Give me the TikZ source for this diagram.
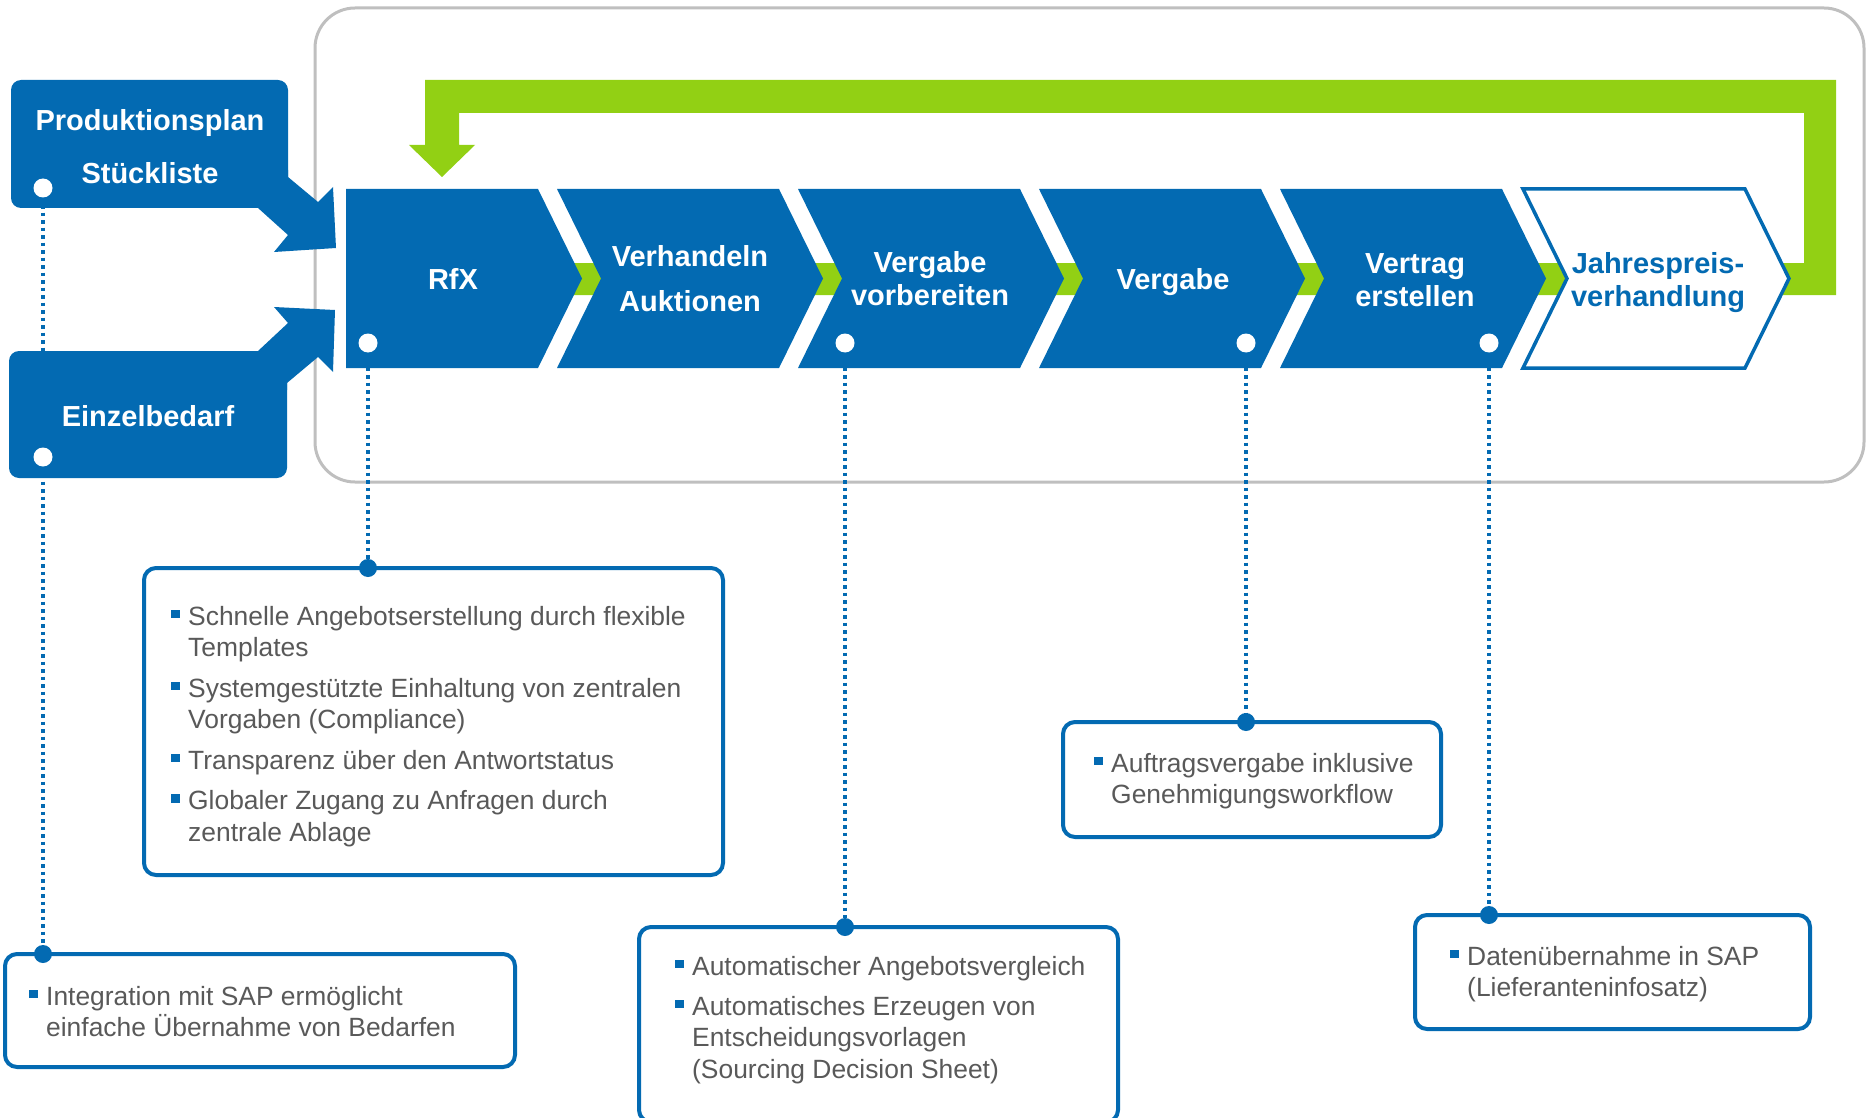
\documentclass[tikz,border=0pt]{standalone}
\usepackage{fontspec}
\setmainfont{Liberation Sans}
\definecolor{cblue}{RGB}{3,106,178}
\definecolor{cgreen}{RGB}{146,208,20}
\definecolor{cgray}{RGB}{191,191,191}
\definecolor{ctext}{RGB}{89,89,89}
\newcommand\tstr[1]{\rule{0pt}{#1pt}}
\newcommand\infobul{\llap{\textcolor{cblue}{\rule[7pt]{8.5pt}{8.5pt}}\hspace{8.5pt}}}
\begin{document}
\begin{tikzpicture}[x=1pt,y=-1pt,
  chevtxt/.style={inner sep=0pt, align=center, anchor=north, text=white, font=\fontsize{29}{33}\selectfont\bfseries},
  infotxt/.style={inner sep=0pt, align=left, anchor=north west, text=ctext, font=\fontsize{26.4}{31.5}\selectfont},
  infobox/.style={draw=cblue, line width=4pt, rounded corners=12pt, fill=white, inner sep=0pt},
  wdot/.style={circle, fill=white, inner sep=0pt, minimum size=19pt},
  bdot/.style={circle, fill=cblue, inner sep=0pt, minimum size=18pt},
  dotline/.style={cblue, line width=3.3pt, dash pattern=on 3.5pt off 4pt},
  leftbox/.style={fill=cblue, rounded corners=10pt, inner sep=0pt},
  chev/.style={fill=cblue},
]
\useasboundingbox (0,0) rectangle (1866,1118);

% gray container
\draw[cgray, line width=3pt, rounded corners=40pt] (315,8) rectangle (1864,482);

% green feedback loop
\fill[cgreen] (425,80) -- (1836,80) -- (1836,295) -- (560,295) -- (560,263) -- (1804,263)
  -- (1804,113) -- (459,113) -- (459,145) -- (475,145) -- (442,177) -- (409,145) -- (425,145) -- cycle;

% chevrons
\fill[chev] (346,189) -- (538,189) -- (582,278.5) -- (538,368) -- (346,368) -- cycle;
\fill[chev] (557,189) -- (779,189) -- (823,278.5) -- (779,368) -- (557,368) -- (601,278.5) -- cycle;
\fill[chev] (798,189) -- (1020,189) -- (1064,278.5) -- (1020,368) -- (798,368) -- (842,278.5) -- cycle;
\fill[chev] (1039,189) -- (1261,189) -- (1305,278.5) -- (1261,368) -- (1039,368) -- (1083,278.5) -- cycle;
\fill[chev] (1280,189) -- (1502,189) -- (1546,278.5) -- (1502,368) -- (1280,368) -- (1324,278.5) -- cycle;
\filldraw[fill=white, draw=cblue, line width=3.5pt] (1523,189) -- (1745,189) -- (1789,278.5) -- (1745,368) -- (1523,368) -- (1567,278.5) -- cycle;

\node[chevtxt] (tRfX) at (453,265) {\tstr{24}RfX};
\node[chevtxt, font=\fontsize{29}{45}\selectfont\bfseries] (tVerh) at (690,242) {\tstr{24}Verhandeln\\Auktionen};
\node[chevtxt] (tVV) at (930,248) {\tstr{24}Vergabe\\vorbereiten};
\node[chevtxt] (tVg) at (1173,265) {\tstr{24}Vergabe};
\node[chevtxt] (tVt) at (1415,249) {\tstr{24}Vertrag\\erstellen};
\node[chevtxt, text=cblue] (tJ) at (1658,249) {\tstr{24}Jahrespreis-\\verhandlung};

% left input boxes with arrows
\node[leftbox, minimum width=277pt, minimum height=128pt] (pBox) at (149.5,144) {};
\fill[cblue] (288,170) -- (288,177) -- (318,202) -- (333,187) -- (336,248) -- (274,252) -- (288,235) -- (258,208) -- (250,200) -- (250,170) -- cycle;
\node[leftbox, minimum width=278pt, minimum height=127pt] (eBox) at (148,414.5) {};
\fill[cblue] (250,358) -- (258,351) -- (288,323) -- (274,307) -- (335,310) -- (333,372) -- (318,357) -- (287,383) -- (287,390) -- (250,390) -- cycle;
\node[chevtxt, font=\fontsize{29}{53}\selectfont\bfseries] (tProd) at (150,106) {\tstr{24}Produktionsplan\\Stückliste};
\node[chevtxt] (tEinz) at (148,402) {\tstr{24}Einzelbedarf};

% white dots
\node[wdot] (dProd) at (43,188) {};
\node[wdot] (dEinz) at (43,457) {};
\node[wdot] (dRfX) at (368,343) {};
\node[wdot] (dVV) at (845,343) {};
\node[wdot] (dVg) at (1246,343) {};
\node[wdot] (dVt) at (1489,343) {};

% info boxes
\node[infobox, minimum width=579pt, minimum height=307pt] (bRfX) at (433.5,721.5) {};
\node[infobox, minimum width=510pt, minimum height=113pt] (bSAP) at (260,1010.5) {};
\node[infobox, minimum width=479pt, minimum height=195pt] (bVV) at (878.5,1024.5) {};
\node[infobox, minimum width=378pt, minimum height=115pt] (bAuf) at (1252,779.5) {};
\node[infobox, minimum width=395pt, minimum height=114pt] (bDat) at (1612.5,972) {};

\node[infotxt] (iRfX) at (188,603) {\tstr{22}\infobul Schnelle Angebotserstellung durch flexible\\Templates\\[9pt]\infobul Systemgestützte Einhaltung von zentralen\\Vorgaben (Compliance)\\[9pt]\infobul Transparenz über den Antwortstatus\\[9pt]\infobul Globaler Zugang zu Anfragen durch\\zentrale Ablage};
\node[infotxt] (iSAP) at (46,983) {\tstr{22}\infobul Integration mit SAP ermöglicht\\einfache Übernahme von Bedarfen};
\node[infotxt] (iVV) at (692,953) {\tstr{22}\infobul Automatischer Angebotsvergleich\\[8.5pt]\infobul Automatisches Erzeugen von\\Entscheidungsvorlagen\\(Sourcing Decision Sheet)};
\node[infotxt] (iAuf) at (1111,750) {\tstr{22}\infobul Auftragsvergabe inklusive\\Genehmigungsworkflow};
\node[infotxt] (iDat) at (1467,943) {\tstr{22}\infobul Datenübernahme in SAP\\(Lieferanteninfosatz)};

% box top dots
\node[bdot] (eRfX) at (368,568) {};
\node[bdot] (eSAP) at (43,954) {};
\node[bdot] (eVV) at (845,927) {};
\node[bdot] (eAuf) at (1246,722) {};
\node[bdot] (eDat) at (1489,915) {};

% dotted connectors
\draw[dotline] (dProd.south) -- (dEinz.north);
\draw[dotline] (dEinz.south) -- (eSAP.north);
\draw[dotline] (dRfX.south) -- (eRfX.north);
\draw[dotline] (dVV.south) -- (eVV.north);
\draw[dotline] (dVg.south) -- (eAuf.north);
\draw[dotline] (dVt.south) -- (eDat.north);
\end{tikzpicture}
\end{document}
